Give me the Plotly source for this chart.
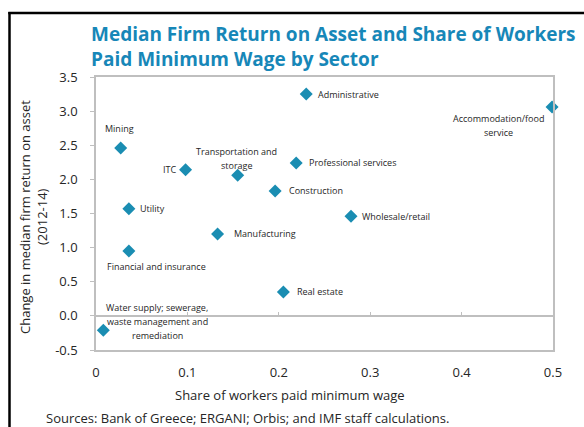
import plotly.graph_objects as go

# ---- data ----
sectors = [
    "Administrative",
    "Accommodation/food<br>service",
    "Professional services",
    "Construction",
    "Wholesale/retail",
    "Mining",
    "ITC",
    "Transportation and<br>storage",
    "Utility",
    "Manufacturing",
    "Financial and insurance",
    "Real estate",
    "Water supply; sewerage,<br>waste management and<br>remediation",
]
share_min_wage = [0.230, 0.499, 0.219, 0.196, 0.279, 0.027, 0.098, 0.155, 0.036, 0.133, 0.036, 0.205, 0.008]
roa_change = [3.25, 3.06, 2.24, 1.83, 1.46, 2.46, 2.14, 2.06, 1.57, 1.20, 0.95, 0.35, -0.21]

x_tickvals = [0, 0.1, 0.2, 0.3, 0.4, 0.5]
x_ticktext = ["0", "0.1", "0.2", "0.3", "0.4", "0.5"]
y_tickvals = [-0.5, 0.0, 0.5, 1.0, 1.5, 2.0, 2.5, 3.0, 3.5]
y_ticktext = ["-0.5", "0.0", "0.5", "1.0", "1.5", "2.0", "2.5", "3.0", "3.5"]

title_text = "Median Firm Return on Asset and Share of Workers<br>Paid Minimum Wage by Sector"
x_title = "Share of workers paid minimum wage"
y_title_1 = "Change in median firm return on asset"
y_title_2 = "(2012-14)"
source_text = "Sources: Bank of Greece; ERGANI; Orbis; and IMF staff calculations."

# ---- label placement (style): xanchor, xshift, yshift in px ----
label_style = [
    ("left", 10, 0),
    ("center", -54, -18),
    ("left", 11, 0),
    ("left", 12, 0),
    ("left", 9, 0),
    ("center", -1, 19),
    ("right", -8, 0),
    ("center", -1, 17),
    ("left", 9, 0),
    ("left", 14, 0),
    ("center", 28, -15),
    ("left", 12, 0),
    ("center", 54, 9),
]

FONT = "Open Sans"
MARKER = "#1a8db2"
TITLE_COLOR = "#1787b8"
TEXT = "#262626"
GRID = "#bfbfbf"

W, H = 584, 427
L, R, T, B = 96, 31, 77, 77
PW, PH = W - L - R, H - T - B

def px_x(px):
    return (px - L) / PW

def px_y(py):
    return (H - B - py) / PH

fig = go.Figure()
fig.add_trace(go.Scatter(
    x=share_min_wage, y=roa_change, mode="markers",
    marker=dict(symbol="diamond", size=10, color=MARKER),
    hoverinfo="skip", showlegend=False, cliponaxis=False,
))
# invisible trace for the zero-line tick axis
fig.add_trace(go.Scatter(x=[0, 0.5], y=[0, 0], xaxis="x2", mode="markers",
                         marker=dict(opacity=0), hoverinfo="skip", showlegend=False))

annotations = []
LINE_H = 14
for name, xv, yv, (anc, dx, dy) in zip(sectors, share_min_wage, roa_change, label_style):
    lines = name.split("<br>")
    n = len(lines)
    for i, ln in enumerate(lines):
        off = ((n - 1) / 2 - i) * LINE_H
        annotations.append(dict(
            x=xv, y=yv, xref="x", yref="y", text=ln, showarrow=False,
            xanchor=anc, yanchor="middle", xshift=dx, yshift=dy + off,
            font=dict(family=FONT, size=9, color=TEXT),
        ))

# title lines
for i, ln in enumerate(title_text.split("<br>")):
    annotations.append(dict(
        x=px_x(89), y=px_y(34 + 25 * i), xref="paper", yref="paper", text="<b>%s</b>" % ln,
        showarrow=False, xanchor="left", yanchor="middle",
        font=dict(family=FONT, size=19, color=TITLE_COLOR),
    ))
# axis titles
annotations.append(dict(x=px_x(290), y=px_y(395), xref="paper", yref="paper", text=x_title,
                        showarrow=False, xanchor="center", yanchor="middle",
                        font=dict(family=FONT, size=13, color=TEXT)))
annotations.append(dict(x=px_x(25), y=px_y(217), xref="paper", yref="paper", text=y_title_1,
                        showarrow=False, xanchor="center", yanchor="middle", textangle=-90,
                        font=dict(family=FONT, size=13, color=TEXT)))
annotations.append(dict(x=px_x(42), y=px_y(217), xref="paper", yref="paper", text=y_title_2,
                        showarrow=False, xanchor="center", yanchor="middle", textangle=-90,
                        font=dict(family=FONT, size=13, color=TEXT)))
annotations.append(dict(x=px_x(44), y=px_y(418), xref="paper", yref="paper", text=source_text,
                        showarrow=False, xanchor="left", yanchor="middle",
                        font=dict(family=FONT, size=13, color=TEXT)))

shapes = [
    dict(type="line", xref="paper", yref="paper", x0=px_x(9.5), x1=px_x(9.5), y0=px_y(440), y1=px_y(12),
         line=dict(color="black", width=2.5)),
    dict(type="line", xref="paper", yref="paper", x0=px_x(8.3), x1=px_x(600), y0=px_y(13), y1=px_y(13),
         line=dict(color="black", width=2.5)),
]

fig.update_layout(
    width=W, height=H, margin=dict(l=L, r=R, t=T, b=B),
    paper_bgcolor="white", plot_bgcolor="white",
    font=dict(family=FONT, size=13, color=TEXT),
    xaxis=dict(range=[0, 0.5], tickvals=x_tickvals, ticktext=x_ticktext,
               showgrid=False, zeroline=False, showline=True, mirror=True,
               linecolor=GRID, linewidth=1.5, ticks="outside", ticklen=10,
               tickcolor="rgba(0,0,0,0)", tickfont=dict(size=13, color=TEXT)),
    xaxis2=dict(range=[0, 0.5], overlaying="x", anchor="free", position=0.125, side="bottom",
                tickvals=x_tickvals, showticklabels=False, ticks="inside", ticklen=4,
                tickcolor=GRID, tickwidth=1, showgrid=False, zeroline=False, showline=False),
    yaxis=dict(range=[-0.5, 3.5], tickvals=y_tickvals, ticktext=y_ticktext,
               showgrid=False, zeroline=True, zerolinecolor=GRID, zerolinewidth=1.5,
               showline=True, mirror=True, linecolor=GRID, linewidth=1.5,
               ticks="outside", ticklen=4, tickcolor=GRID, ticklabelstandoff=10,
               tickfont=dict(size=13, color=TEXT)),
    annotations=annotations, shapes=shapes,
)

fig.write_html("out.html", config={"displayModeBar": False},
               post_script="document.body.style.margin='0';document.body.style.overflow='hidden';")
